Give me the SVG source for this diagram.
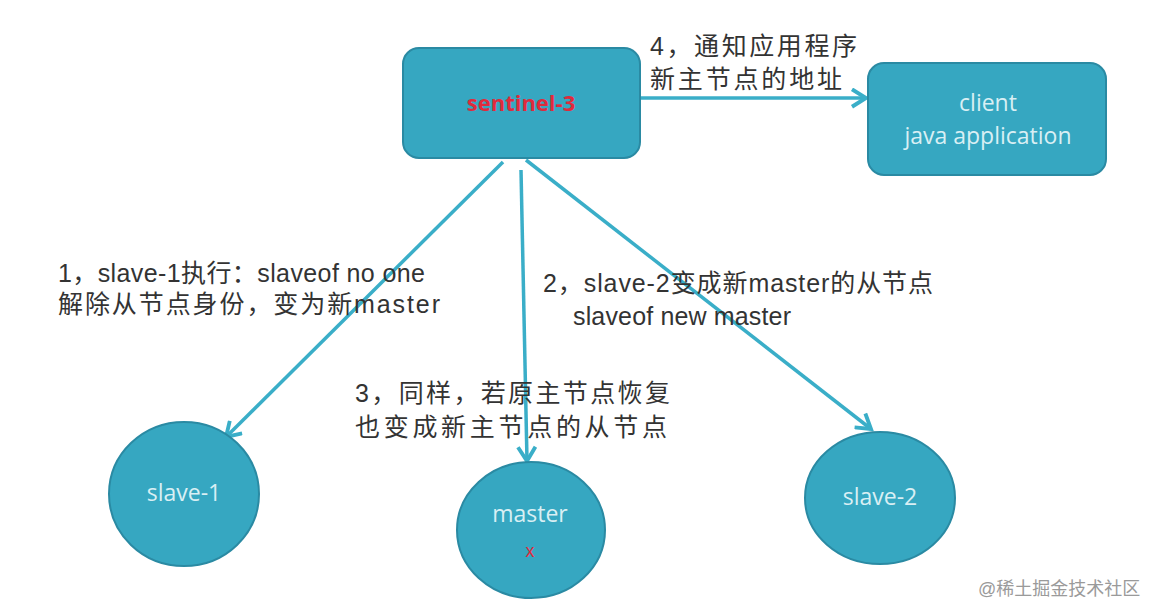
<svg xmlns="http://www.w3.org/2000/svg" width="1156" height="616" viewBox="0 0 1156 616">
<defs>
<style>
.node{fill:#36a7c1;stroke:#2a8aa3;stroke-width:2}
.nt{font-family:"Open Sans","Liberation Sans","Noto Sans CJK SC",sans-serif;font-size:23px;fill:#d9eff4;text-anchor:middle}
.lbl{font-family:"Liberation Sans","Noto Sans CJK SC",sans-serif;font-size:25px;fill:#333333}
.conn{stroke:#3aaec8;stroke-width:3.5;fill:none;marker-end:url(#arr)}
</style>
<marker id="arr" viewBox="0 0 12 12" refX="10" refY="6" markerWidth="6" markerHeight="6" orient="auto" markerUnits="strokeWidth">
<path d="M2,1 L10,6 L2,11" fill="none" stroke="#3aaec8" stroke-width="2.2"/>
</marker>
</defs>
<rect width="1156" height="616" fill="#ffffff"/>
<g id="connectors">
<line class="conn" x1="640" y1="98" x2="866" y2="98"/>
<line class="conn" x1="503" y1="162" x2="226" y2="437"/>
<line class="conn" x1="521" y1="170" x2="527" y2="461"/>
<line class="conn" x1="526" y1="160" x2="871" y2="429"/>
</g>
<g id="sentinel-3">
<rect class="node" x="403" y="48" width="237" height="110" rx="16"/>
<text x="521" y="111" font-family="'Open Sans','Liberation Sans',sans-serif" font-size="22" font-weight="bold" fill="#e02a3c" text-anchor="middle">sentinel-3</text>
</g>
<g id="client">
<rect class="node" x="868" y="63" width="238" height="112" rx="16"/>
<text class="nt" x="988" y="111">client</text>
<text class="nt" x="988" y="144">java application</text>
</g>
<g id="slave-1">
<ellipse class="node" cx="184" cy="494" rx="75" ry="72"/>
<text class="nt" x="184" y="501">slave-1</text>
</g>
<g id="master">
<ellipse class="node" cx="531" cy="530" rx="74" ry="68"/>
<text class="nt" x="530" y="522">master</text>
<text x="530" y="557" font-family="'Liberation Sans',sans-serif" font-size="18" fill="#e02a3c" text-anchor="middle">x</text>
</g>
<g id="slave-2">
<ellipse class="node" cx="880" cy="498" rx="75" ry="66"/>
<text class="nt" x="880" y="505">slave-2</text>
</g>
<g id="labels">
<text class="lbl" x="650" y="55" textLength="207" lengthAdjust="spacing">4，通知应用程序</text>
<text class="lbl" x="650" y="88" textLength="192" lengthAdjust="spacing">新主节点的地址</text>
<text class="lbl" x="58" y="282" textLength="367" lengthAdjust="spacing">1，slave-1执行：slaveof no one</text>
<text class="lbl" x="58" y="313" textLength="382" lengthAdjust="spacing">解除从节点身份，变为新master</text>
<text class="lbl" x="543" y="292" textLength="390" lengthAdjust="spacing">2，slave-2变成新master的从节点</text>
<text class="lbl" x="573" y="325" textLength="218" lengthAdjust="spacing">slaveof new master</text>
<text class="lbl" x="355" y="402" textLength="315" lengthAdjust="spacing">3，同样，若原主节点恢复</text>
<text class="lbl" x="355" y="436" textLength="312" lengthAdjust="spacing">也变成新主节点的从节点</text>
</g>
<text x="978" y="595" font-family="'Liberation Sans','Noto Sans CJK SC',sans-serif" font-size="18" fill="#9a9a9a">@稀土掘金技术社区</text>
</svg>
